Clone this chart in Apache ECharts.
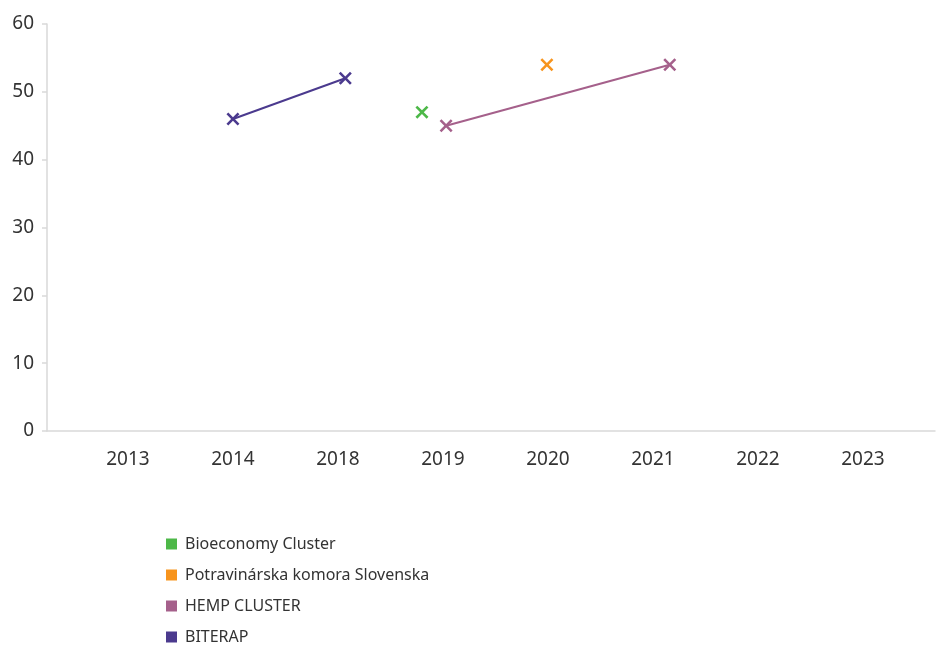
<!DOCTYPE html>
<html>
<head>
<meta charset="utf-8">
<script src="https://cdn.jsdelivr.net/npm/echarts@6/dist/echarts.min.js"></script>
<style>
  html, body { margin: 0; padding: 0; background: #fff; }
  #main { width: 936px; height: 647px; }
</style>
</head>
<body>
<div id="main"></div>
<script>
// x labels (years), one per slot on the x axis
const yearLabels = ["2013", "2014", "2018", "2019", "2020", "2021", "2022", "2023"];
// points: [slot position, value]
const bioeconomy = [[2.8, 47]];
const potravinarska = [[3.99, 54]];
const hemp = [[3.03, 45], [5.16, 54]];
const biterap = [[1.0, 46], [2.07, 52]];
const yTicks = [0, 10, 20, 30, 40, 50, 60];

const seriesNames = ["Bioeconomy Cluster", "Potravinárska komora Slovenska", "HEMP CLUSTER", "BITERAP"];
const colors = ["#4db848", "#f7941d", "#a5608b", "#4b3a8e"];

// x-shaped marker
const crossMark = "path://M0,1.4L1.4,0L5,3.6L8.6,0L10,1.4L6.4,5L10,8.6L8.6,10L5,6.4L1.4,10L0,8.6L3.6,5Z";

const chart = echarts.init(document.getElementById("main"));

function makeSeries(name, data, color) {
  return {
    name: name,
    type: "line",
    data: data,
    symbol: crossMark,
    symbolSize: 13,
    showSymbol: true,
    lineStyle: { color: color, width: 2 },
    itemStyle: { color: color, borderWidth: 0 },
  };
}

chart.setOption({
  animation: false,
  color: colors,
  textStyle: { fontFamily: "Noto Sans" },
  grid: { left: 47, right: 1, top: 24, bottom: 216 },
  legend: {
    orient: "vertical",
    left: 161,
    top: 529,
    height: 120,
    itemWidth: 11,
    itemHeight: 11,
    itemGap: 11,
    icon: "rect",
    data: seriesNames,
    textStyle: { fontSize: 16, color: "#333", lineHeight: 20, padding: [0, 0, 0, 3] },
  },
  xAxis: {
    type: "value",
    min: -0.771,
    max: 7.686,
    splitLine: { show: false },
    axisLine: { show: true, lineStyle: { color: "#d9d9d9", width: 1.5 } },
    axisTick: { show: false },
    axisLabel: {
      customValues: yearLabels.map((_, i) => i),
      formatter: (v) => yearLabels[Math.round(v)],
      fontSize: 19,
      color: "#333",
      margin: 19,
    },
  },
  yAxis: {
    type: "value",
    min: yTicks[0],
    max: yTicks[yTicks.length - 1],
    interval: 10,
    splitLine: { show: false },
    axisLine: { show: true, onZero: false, lineStyle: { color: "#d9d9d9", width: 1.5 } },
    axisTick: { show: true, length: 5, lineStyle: { color: "#d9d9d9", width: 1.5 } },
    axisLabel: { fontSize: 19, color: "#333", margin: 13 },
  },
  series: [
    makeSeries(seriesNames[0], bioeconomy, colors[0]),
    makeSeries(seriesNames[1], potravinarska, colors[1]),
    makeSeries(seriesNames[2], hemp, colors[2]),
    makeSeries(seriesNames[3], biterap, colors[3]),
  ],
});
</script>
</body>
</html>
